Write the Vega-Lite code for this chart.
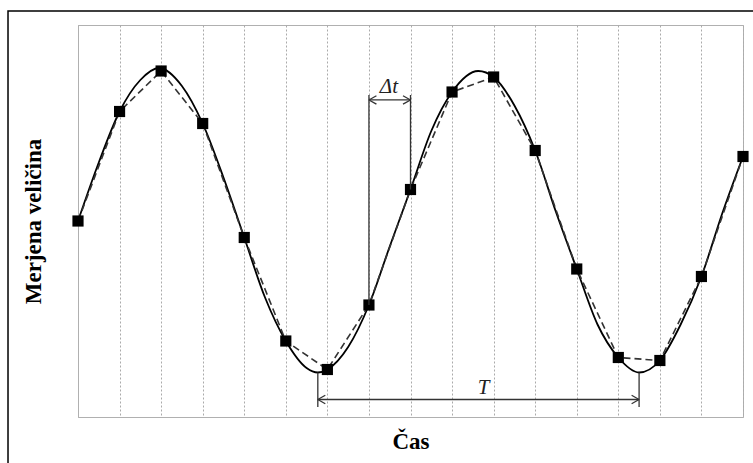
{
  "$schema": "https://vega.github.io/schema/vega-lite/v6.json",
  "width": 665,
  "height": 392,
  "autosize": {"type": "none"},
  "padding": {"left": 78, "top": 25, "right": 10, "bottom": 46},
  "background": "white",
  "config": {"view": {"stroke": "#b0b0b0", "strokeWidth": 1}, "font": "Liberation Serif"},
  "datasets": {
    "samples": [
      {"x": 0, "v": 0.0}, {"x": 1, "v": 0.73}, {"x": 2, "v": 1.0}, {"x": 3, "v": 0.65},
      {"x": 4, "v": -0.11}, {"x": 5, "v": -0.8}, {"x": 6, "v": -0.99}, {"x": 7, "v": -0.56},
      {"x": 8, "v": 0.21}, {"x": 9, "v": 0.86}, {"x": 10, "v": 0.96}, {"x": 11, "v": 0.47},
      {"x": 12, "v": -0.32}, {"x": 13, "v": -0.91}, {"x": 14, "v": -0.93}, {"x": 15, "v": -0.37},
      {"x": 16, "v": 0.43}
    ],
    "curve": [
      {"x": 0, "v": 0.0}, {"x": 0.5, "v": 0.39}, {"x": 1, "v": 0.73}, {"x": 1.5, "v": 0.94},
      {"x": 1.95, "v": 1.02}, {"x": 2.5, "v": 0.9}, {"x": 3, "v": 0.65}, {"x": 3.5, "v": 0.29},
      {"x": 4, "v": -0.11}, {"x": 4.5, "v": -0.51}, {"x": 5, "v": -0.8}, {"x": 5.5, "v": -0.98},
      {"x": 5.77, "v": -1.01}, {"x": 6, "v": -0.99}, {"x": 6.5, "v": -0.84}, {"x": 7, "v": -0.56},
      {"x": 7.5, "v": -0.17}, {"x": 8, "v": 0.21}, {"x": 8.5, "v": 0.6}, {"x": 9, "v": 0.86},
      {"x": 9.63, "v": 1.0}, {"x": 10, "v": 0.96}, {"x": 10.5, "v": 0.77}, {"x": 11, "v": 0.47},
      {"x": 11.5, "v": 0.06}, {"x": 12, "v": -0.32}, {"x": 12.5, "v": -0.69}, {"x": 13, "v": -0.91},
      {"x": 13.5, "v": -1.01}, {"x": 14, "v": -0.93}, {"x": 14.5, "v": -0.69}, {"x": 15, "v": -0.37},
      {"x": 15.5, "v": 0.05}, {"x": 16, "v": 0.43}
    ],
    "rules": [
      {"x": 7, "v": 0.84, "x2": 7, "v2": -0.56},
      {"x": 8, "v": 0.84, "x2": 8, "v2": 0.21},
      {"x": 7, "v": 0.807, "x2": 8, "v2": 0.807},
      {"x": 5.77, "v": -1.01, "x2": 5.77, "v2": -1.24},
      {"x": 13.5, "v": -1.01, "x2": 13.5, "v2": -1.24},
      {"x": 5.77, "v": -1.19, "x2": 13.5, "v2": -1.19},
      {"x": 7, "v": 0.807, "x2": 7.18, "v2": 0.835},
      {"x": 7, "v": 0.807, "x2": 7.18, "v2": 0.779},
      {"x": 8, "v": 0.807, "x2": 7.82, "v2": 0.835},
      {"x": 8, "v": 0.807, "x2": 7.82, "v2": 0.779},
      {"x": 5.77, "v": -1.19, "x2": 5.95, "v2": -1.162},
      {"x": 5.77, "v": -1.19, "x2": 5.95, "v2": -1.218},
      {"x": 13.5, "v": -1.19, "x2": 13.32, "v2": -1.162},
      {"x": 13.5, "v": -1.19, "x2": 13.32, "v2": -1.218}
    ],
    "labels": [
      {"x": 7.48, "v": 0.853, "label": "Δt"},
      {"x": 9.76, "v": -1.153, "label": "T"}
    ],
    "frame": [
      {"x": -1.684, "v": 1.4, "x2": 17, "v2": -1.8}
    ]
  },
  "encoding": {
    "x": {
      "field": "x", "type": "quantitative",
      "scale": {"domain": [0, 16], "nice": false, "zero": false},
      "axis": {
        "title": "Čas", "labels": false, "ticks": false, "domain": true, "domainColor": "#b0b0b0",
        "grid": true, "values": [0,1,2,3,4,5,6,7,8,9,10,11,12,13,14,15,16],
        "gridDash": [2, 2], "gridColor": "#aaaaaa", "gridWidth": 1,
        "titleFont": "Liberation Serif", "titleFontSize": 23, "titleFontWeight": "bold",
        "titleColor": "#000000", "titlePadding": 13
      }
    },
    "y": {
      "field": "v", "type": "quantitative",
      "scale": {"domain": [-1.3067, 1.3067], "nice": false, "zero": false},
      "axis": {
        "title": "Merjena veličina", "labels": false, "ticks": false, "grid": false,
        "domain": true, "domainColor": "#b0b0b0",
        "titleFont": "Liberation Serif", "titleFontSize": 23, "titleFontWeight": "bold",
        "titleColor": "#000000", "titlePadding": 33
      }
    }
  },
  "layer": [
    {
      "data": {"name": "frame"},
      "mark": {"type": "rect", "filled": false, "stroke": "#000000", "strokeWidth": 1.5, "clip": false},
      "encoding": {"x2": {"field": "x2"}, "y2": {"field": "v2"}}
    },
    {
      "data": {"name": "curve"},
      "mark": {"type": "line", "interpolate": "monotone", "color": "#000000", "strokeWidth": 1.8}
    },
    {
      "data": {"name": "samples"},
      "mark": {"type": "line", "color": "#333333", "strokeWidth": 1.6, "strokeDash": [7, 4]}
    },
    {
      "data": {"name": "samples"},
      "mark": {"type": "point", "shape": "square", "filled": true, "size": 125, "color": "#000000", "opacity": 1}
    },
    {
      "data": {"name": "rules"},
      "mark": {"type": "rule", "color": "#333333", "strokeWidth": 1.3},
      "encoding": {"x2": {"field": "x2"}, "y2": {"field": "v2"}}
    },
    {
      "data": {"name": "labels"},
      "mark": {"type": "text", "font": "Liberation Serif", "fontStyle": "italic", "fontSize": 21, "align": "center", "baseline": "alphabetic", "color": "#222222"},
      "encoding": {"text": {"field": "label"}}
    }
  ]
}
